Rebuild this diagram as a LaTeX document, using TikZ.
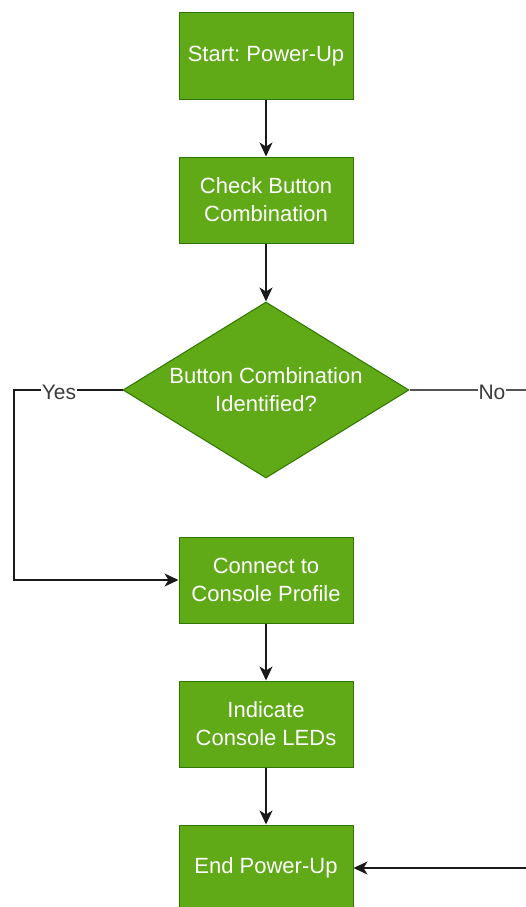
\documentclass[tikz,border=0pt]{standalone}
\usepackage{fontspec}
\setmainfont{Liberation Sans}
\usetikzlibrary{arrows.meta,shapes.geometric}
\definecolor{stepfill}{HTML}{60A917}
\definecolor{stepline}{HTML}{2D7600}
\definecolor{wire}{HTML}{1A1A1A}
\frenchspacing
\begin{document}
\begin{tikzpicture}[x=1pt,y=-1pt,
  stepbox/.style={draw=stepline,fill=stepfill,line width=1pt,minimum width=174pt,
    minimum height=86pt,text=white,align=center,font=\fontsize{22}{28}\selectfont,
    inner sep=0pt},
  decision/.style={diamond,draw=stepline,fill=stepfill,line width=1pt,
    minimum width=286pt,minimum height=176pt,shape aspect=1.625,inner sep=0pt,
    text=white,align=center,font=\fontsize{22}{28}\selectfont},
  flow/.style={draw=wire,line width=1.3pt,-{Stealth[length=14pt,width=13pt,inset=4pt]}},
  link/.style={draw=wire!75,line width=1.3pt},
  tag/.style={fill=white,text=wire!85,inner sep=1pt,font=\fontsize{21}{25}\selectfont}]
\useasboundingbox (0,0) rectangle (526,907);
\begin{scope}
\clip (0,0) rectangle (526,907);
\node[stepbox] (start) at (266,56) {Start: Power-Up};
\node[stepbox] (check) at (266,200) {Check Button\\Combination};
\node[decision] (ident) at (266,390) {Button Combination\\Identified?};
\node[stepbox] (connect) at (266,580) {Connect to\\Console Profile};
\node[stepbox] (leds) at (266,724) {Indicate\\Console LEDs};
\node[stepbox] (finish) at (266,868) {End Power-Up};
\coordinate (yesturn) at (14,390);
\coordinate (noout) at (530,390);
\coordinate (noin) at (530,868);

\draw[flow] (start) -- (check);
\draw[flow] (check) -- (ident);
\draw[flow] (connect) -- (leds);
\draw[flow] (leds) -- (finish);
\draw[flow] (ident.west) -- (yesturn) |- (connect.west);
\node[tag] (yestag) at (59,392) {Yes};
\draw[link] (ident.east) -- (noout);
\node[tag] (notag) at (492,392) {No};
\draw[flow] (noin) -- (finish.east);
\end{scope}
\end{tikzpicture}
\end{document}
